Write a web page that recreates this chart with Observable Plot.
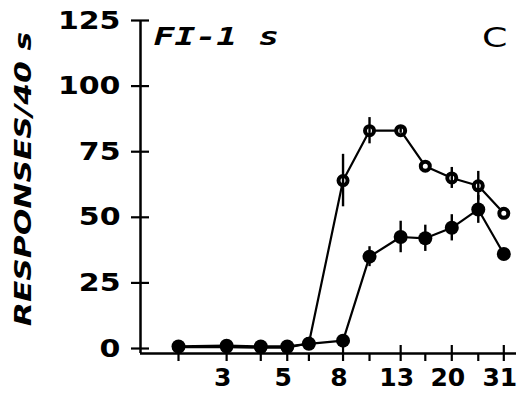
<!DOCTYPE html>
<html>
<head>
<meta charset="utf-8">
<script src="https://cdn.jsdelivr.net/npm/d3@7"></script>
<script src="https://cdn.jsdelivr.net/npm/@observablehq/plot@0.6"></script>
<style>
  html, body { margin: 0; padding: 0; background: #fff; }
</style>
</head>
<body>
<div id="chart"></div>
<script>
// x values (interval, log-spaced)
const xVals = [2, 3, 4, 5, 6, 8, 10, 13, 16, 20, 25, 31];
// open-circle series
const openMean = [0.5, 0.5, 0.3, 0.3, 2, 64, 83, 83, 69.5, 65, 62, 51.5];
const openErr  = [0, 0, 0, 0, 0, 10, 5, 1, 0, 4, 5.5, 0];
// filled-circle series
const filledMean = [0.8, 1.1, 0.8, 0.8, 1.8, 3, 35, 42.5, 42, 46, 53, 36];
const filledErr  = [0, 0, 0, 0, 0, 0, 3.8, 6, 5, 5, 5.3, 0];
// ticks
const yTicks = [0, 25, 50, 75, 100, 125];
const xMajorTicks = [3, 5, 8, 13, 20, 31];
const xMinorTicks = [2, 4, 6, 10, 16, 25];
const xDomain = [1.452, 34.5];
const yDomain = [-1.9, 125];
const titleText = "FI-1 s";
const panelText = "C";
const yLabel = "RESPONSES/40 s";

// logarithmic x positions (linear scale over ln(x))
const lx = Math.log;
const openData = xVals.map((x, i) => ({x: lx(x), y: openMean[i], e: openErr[i]}));
const filledData = xVals.map((x, i) => ({x: lx(x), y: filledMean[i], e: filledErr[i]}));
const fmtX = d => String(Math.round(Math.exp(d)));

const plot = Plot.plot({
  width: 522,
  height: 398,
  marginLeft: 140,
  marginRight: 6,
  marginTop: 20,
  marginBottom: 45,
  style: {background: "#fff", color: "#000", fontFamily: "DejaVu Sans"},
  x: {domain: xDomain.map(lx)},
  y: {domain: yDomain},
  marks: [
    // axis lines
    Plot.ruleX([lx(xDomain[0])], {y1: yDomain[0], y2: yTicks[yTicks.length - 1], strokeWidth: 2.5, stroke: "#000"}),
    Plot.ruleY([yDomain[0]], {x1: lx(xDomain[0]), x2: lx(xDomain[1]), strokeWidth: 2.5, stroke: "#000"}),
    // y ticks crossing the axis
    Plot.axisY(yTicks, {tickSize: 18, dx: 9, fill: "none", label: null, strokeWidth: 2.2}),
    Plot.axisY(yTicks, {tickSize: 0, tickPadding: 20, label: null, fontSize: 25, fontWeight: "bold",
      fontFamily: "DejaVu Sans", tickFormat: d => String(d)}),
    // x ticks
    Plot.axisX(xMajorTicks.map(lx), {tickSize: 16, dy: -8, fill: "none", label: null, strokeWidth: 2.2}),
    Plot.axisX(xMinorTicks.map(lx), {tickSize: 8, fill: "none", label: null, strokeWidth: 2.2}),
    Plot.axisX(xMajorTicks.map(lx), {tickSize: 0, tickPadding: 15, dx: -4, label: null, fontSize: 25, fontWeight: "bold",
      fontFamily: "DejaVu Sans", tickFormat: fmtX}),
    // series lines
    Plot.line(openData, {x: "x", y: "y", stroke: "#000", strokeWidth: 2.2}),
    Plot.line(filledData, {x: "x", y: "y", stroke: "#000", strokeWidth: 2.2}),
    // points
    Plot.dot(openData, {x: "x", y: "y", r: 4.5, fill: "#fff", stroke: "#000", strokeWidth: 4}),
    Plot.dot(filledData, {x: "x", y: "y", r: 7, fill: "#000", stroke: "none"}),
    // error bars
    Plot.ruleX(openData.filter(d => d.e > 0), {x: "x", y1: d => d.y - d.e, y2: d => d.y + d.e, stroke: "#000", strokeWidth: 2.4}),
    Plot.ruleX(filledData.filter(d => d.e > 0), {x: "x", y1: d => d.y - d.e, y2: d => d.y + d.e, stroke: "#000", strokeWidth: 2.4}),
    // texts
    Plot.text([titleText], {frameAnchor: "top-left", dx: 13, dy: 7, text: d => d, textAnchor: "start", lineAnchor: "top",
      fontSize: 24, fontFamily: "DejaVu Sans Mono", fontStyle: "italic", fontWeight: "bold"}),
    Plot.text([panelText], {frameAnchor: "top-right", dx: -9, dy: 7, text: d => d, textAnchor: "end", lineAnchor: "top",
      fontSize: 27, fontFamily: "DejaVu Sans"}),
    Plot.text([yLabel], {frameAnchor: "left", dx: -117, dy: -8, rotate: -90, text: d => d, textAnchor: "middle",
      fontSize: 23, fontFamily: "DejaVu Sans", fontStyle: "italic", fontWeight: "bold"})
  ]
});

document.getElementById("chart").appendChild(plot);

function stretchEl(t, s) {
  const tr = t.getAttribute("transform") || "";
  t.setAttribute("transform", tr + ` scale(${s},1)`);
}
plot.querySelectorAll(`g[aria-label="y-axis tick label"] text`).forEach(t => stretchEl(t, 1.2));
plot.querySelectorAll("text").forEach(t => {
  const s = t.textContent;
  if (s === titleText) stretchEl(t, 1.45);
  else if (s === panelText) stretchEl(t, 1.35);
  else if (s === yLabel) stretchEl(t, 1.36);
});
</script>
</body>
</html>
